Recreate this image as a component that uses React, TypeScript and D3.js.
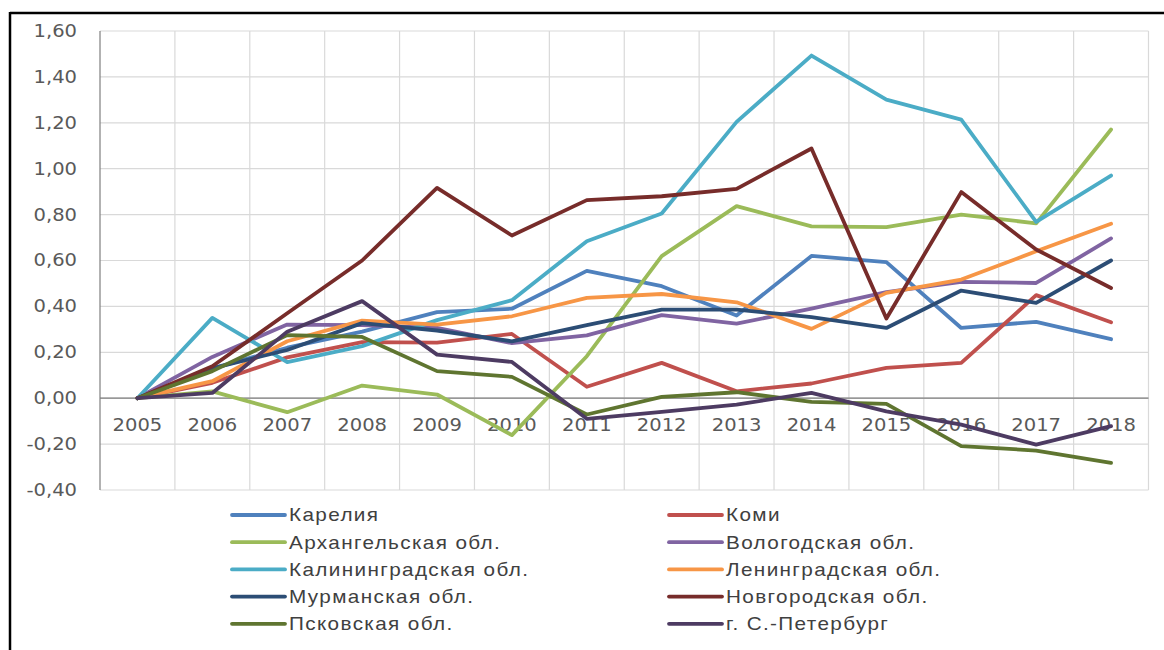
import React, { useRef, useEffect } from "react";
import * as d3 from "d3";

const years = ["2005", "2006", "2007", "2008", "2009", "2010", "2011", "2012", "2013", "2014", "2015", "2016", "2017", "2018"];
const yTicks = [-0.4, -0.2, 0, 0.2, 0.4, 0.6, 0.8, 1.0, 1.2, 1.4, 1.6];

const karelia = [0, 0.13, 0.22, 0.29, 0.375, 0.39, 0.555, 0.488, 0.36, 0.62, 0.593, 0.306, 0.333, 0.257];
const komi = [0, 0.067, 0.178, 0.244, 0.242, 0.28, 0.05, 0.154, 0.03, 0.064, 0.132, 0.154, 0.449, 0.331];
const arkhangelsk = [0, 0.03, -0.061, 0.055, 0.016, -0.161, 0.183, 0.619, 0.837, 0.749, 0.745, 0.8, 0.762, 1.171];
const vologda = [0, 0.18, 0.321, 0.318, 0.306, 0.24, 0.274, 0.362, 0.325, 0.39, 0.462, 0.507, 0.502, 0.696];
const kaliningrad = [0, 0.35, 0.157, 0.227, 0.34, 0.427, 0.684, 0.805, 1.204, 1.493, 1.301, 1.214, 0.768, 0.97];
const leningrad = [0, 0.074, 0.248, 0.338, 0.321, 0.357, 0.437, 0.454, 0.418, 0.302, 0.459, 0.517, 0.64, 0.76];
const murmansk = [0, 0.13, 0.21, 0.327, 0.295, 0.248, 0.318, 0.386, 0.386, 0.353, 0.306, 0.469, 0.415, 0.6];
const novgorod = [0, 0.139, 0.37, 0.6, 0.916, 0.709, 0.863, 0.88, 0.912, 1.088, 0.347, 0.898, 0.648, 0.48];
const pskov = [0, 0.118, 0.275, 0.267, 0.118, 0.093, -0.071, 0.006, 0.026, -0.016, -0.025, -0.209, -0.228, -0.282];
const spb = [0, 0.023, 0.29, 0.423, 0.19, 0.158, -0.09, -0.06, -0.028, 0.023, -0.057, -0.115, -0.202, -0.122];

const seriesNames = [
  "Карелия", "Коми", "Архангельская обл.", "Вологодская обл.", "Калининградская обл.",
  "Ленинградская обл.", "Мурманская обл.", "Новгородская обл.", "Псковская обл.", "г. С.-Петербург",
];
const seriesValues = [karelia, komi, arkhangelsk, vologda, kaliningrad, leningrad, murmansk, novgorod, pskov, spb];
const seriesColors = [
  "#4F81BD", "#C0504D", "#9BBB59", "#8064A2", "#4BACC6",
  "#F79646", "#2C4D75", "#772C2A", "#5F7530", "#4D3B62",
];

// the original picture is stretched a bit sideways
const stretch = 1.15;

const App = () => {
  const ref = useRef(null);

  useEffect(() => {
    const svg = d3.select(ref.current);
    svg.selectAll("*").remove();

    const left = 100, right = 1148.5, top = 31, bottom = 490;

    const x = d3.scaleBand().domain(years).range([left, right]).padding(0);
    const y = d3.scaleLinear().domain([-0.4, 1.6]).range([bottom, top]);
    const cx = (d) => x(d) + x.bandwidth() / 2;

    // outer frame (top and left only)
    svg.append("line").attr("x1", 10).attr("x2", 1164).attr("y1", 13).attr("y2", 13)
      .attr("stroke", "#000").attr("stroke-width", 2.5);
    svg.append("line").attr("x1", 10).attr("x2", 10).attr("y1", 12).attr("y2", 650)
      .attr("stroke", "#000").attr("stroke-width", 2.5);

    // grid
    const grid = svg.append("g").attr("stroke", "#D9D9D9").attr("stroke-width", 1.2);
    yTicks.forEach((t) => {
      grid.append("line").attr("x1", left).attr("x2", right)
        .attr("y1", y(t)).attr("y2", y(t));
    });
    years.forEach((yr) => {
      grid.append("line").attr("x1", x(yr) + x.bandwidth()).attr("x2", x(yr) + x.bandwidth())
        .attr("y1", top).attr("y2", bottom);
    });

    // axes lines
    svg.append("line").attr("x1", left).attr("x2", left).attr("y1", top).attr("y2", bottom)
      .attr("stroke", "#7F7F7F").attr("stroke-width", 1.2);
    svg.append("line").attr("x1", left).attr("x2", right).attr("y1", y(0)).attr("y2", y(0))
      .attr("stroke", "#7F7F7F").attr("stroke-width", 1.2);

    // y labels
    const fmt = (v) => d3.format(".2f")(v).replace(".", ",").replace("−", "-");
    svg.append("g").selectAll("text").data(yTicks).enter().append("text")
      .attr("transform", (d) => `translate(77,${y(d)}) scale(${stretch},1)`)
      .attr("dy", "0.35em")
      .attr("text-anchor", "end")
      .attr("font-family", "DejaVu Sans").attr("font-size", 17).attr("fill", "#595959")
      .text(fmt);

    // x labels
    svg.append("g").selectAll("text").data(years).enter().append("text")
      .attr("transform", (d) => `translate(${cx(d)},425) scale(${stretch},1)`)
      .attr("dy", "0.35em")
      .attr("text-anchor", "middle")
      .attr("font-family", "DejaVu Sans").attr("font-size", 17).attr("fill", "#595959")
      .text((d) => d);

    // lines
    const line = d3.line().x((d, i) => cx(years[i])).y((d) => y(d));
    seriesValues.forEach((vals, i) => {
      svg.append("path").datum(vals).attr("d", line)
        .attr("fill", "none").attr("stroke", seriesColors[i])
        .attr("stroke-width", 3.8).attr("stroke-linejoin", "round").attr("stroke-linecap", "round");
    });

    // legend
    const legend = svg.append("g");
    seriesNames.forEach((name, i) => {
      const col = i % 2, row = Math.floor(i / 2);
      const lx = col === 0 ? 232 : 669;
      const ly = 515 + row * 27.2;
      legend.append("line").attr("x1", lx).attr("x2", lx + 53).attr("y1", ly).attr("y2", ly)
        .attr("stroke", seriesColors[i]).attr("stroke-width", 3.8).attr("stroke-linecap", "round");
      legend.append("text")
        .attr("transform", `translate(${lx + 57},${ly}) scale(${stretch},1)`)
        .attr("dy", "0.35em")
        .attr("font-family", "'Liberation Sans', Arial")
        .attr("font-size", 18).attr("letter-spacing", 1.2).attr("fill", "#404040")
        .text(name);
    });
  }, []);

  return (
    <div style={{ position: "absolute", left: 0, top: 0 }}>
      <svg ref={ref} width={1164} height={650} style={{ display: "block", background: "#fff" }} />
    </div>
  );
};

export default App;
